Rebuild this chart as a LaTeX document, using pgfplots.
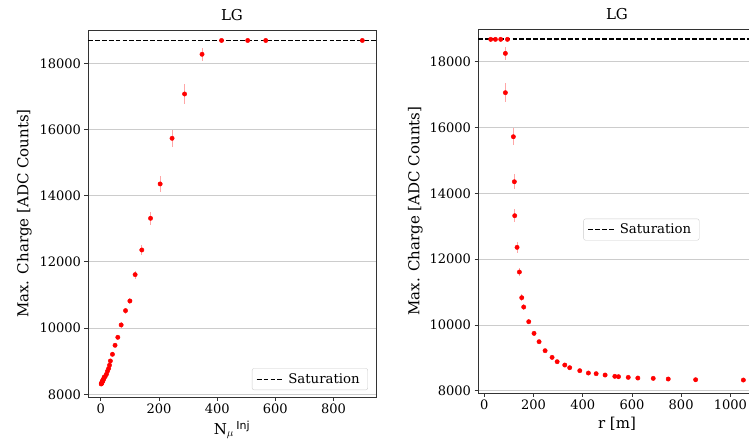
\documentclass[border=0pt]{standalone}
\usepackage{fontspec}
\setmainfont{DejaVu Serif}
\setsansfont{DejaVu Sans}
\usepackage{pgfplots}
\pgfplotsset{compat=1.18}
\begin{document}
\begin{tikzpicture}
\path[use as bounding box] (0pt,0pt) rectangle (749pt,445pt);
\pgfplotsset{common/.style={
  scale only axis, tick align=outside, tick pos=left,
  ytick={8000,10000,...,18000}, scaled y ticks=false, scaled x ticks=false,
  ymajorgrids, grid style={line width=0.8pt, color=black!20},
  major tick length=3.5pt, tick style={black!80, line width=0.8pt},
  axis line style={line width=0.9pt, black!80},
  ticklabel style={font=\fontsize{13}{15}\selectfont},
  /pgf/number format/assume math mode=true,
  /pgf/number format/1000 sep={},
  label style={font=\fontsize{15}{18}\selectfont},
  title style={font=\fontsize{15}{18}\selectfont},
  title=LG, ylabel={Max. Charge [ADC Counts]},
  legend cell align=left,
  legend style={draw=black!20, rounded corners=2pt, fill=white, fill opacity=0.8, text opacity=1, font=\fontsize{13.3}{15}\selectfont, inner xsep=4pt, inner ysep=3pt, nodes={inner xsep=4pt}},
  legend image code/.code={\draw[#1] (0pt,0pt) -- (27pt,0pt);},
  error bars/error bar style={red!35, line width=0.8pt},
  error bars/error mark=none,
}}
% Left panel
\begin{axis}[common, at={(88pt,48pt)}, anchor=south west, width=288pt, height=367pt,
  xmin=-44, xmax=946, ymin=7918, ymax=19006, xtick={0,200,...,800},
  ylabel shift=1pt,
  xlabel={N\textsubscript{$\mu$}\,\textsuperscript{\sffamily\fontsize{11}{12}\selectfont Inj}},
  legend style={at={(0.972,0.019)}, anchor=south east}]
\addplot[forget plot, only marks, mark=*, mark size=2.2pt, mark options={draw=red, fill=red}, red,
  error bars/.cd, y dir=both, y explicit] table[x=x, y=y, y error=e] {
x y e
1.5 8311 20
2 8324 20
3 8334 20
4 8355 20
4.5 8375 20
5.5 8385 20
6.5 8405 20
7 8426 20
8.5 8436 20
10.5 8476 25
11.5 8517 25
15 8537 25
19.5 8608 30
23 8699 30
27 8780 35
30 8881 40
33 9007 40
40 9208 50
49 9480 60
58.5 9722 70
70 10095 80
85 10528 90
100 10820 100
118 11615 120
141 12360 160
171 13317 190
204 14355 235
245 15734 252
288 17073 290
348 18272 190
415 18690 0
505 18690 0
567 18690 0
899 18690 0
};
\addplot[black, line width=1.2pt, dash pattern=on 4.8pt off 2.1pt] coordinates {(-44,18690) (946,18690)};
\addlegendentry{Saturation}
\end{axis}
% Right panel
\begin{axis}[common, at={(478pt,52pt)}, anchor=south west, width=271pt, height=364pt,
  xmin=-25.8, xmax=1076, ymin=7930, ymax=18994, xtick={0,200,...,1000},
  axis y line*=left, y axis line style={-},
  xlabel={r [m]}, xlabel style={xshift=3.5pt}, title style={xshift=3.5pt},
  legend style={at={(0.603,0.449)}, anchor=center}]
\addplot[forget plot, only marks, mark=*, mark size=2.2pt, mark options={draw=red, fill=red}, red,
  error bars/.cd, y dir=both, y explicit] table[x=x, y=y, y error=e] {
x y e
26 18679 0
45 18679 0
66.5 18679 0
94 18679 0
85.5 18253 190
85.5 17058 290
118 15720 252
122 14352 235
123.5 13319 190
133 12357 160
142.5 11607 120
152 10827 100
160 10543 90
180.5 10097 80
202 9743 70
222.5 9489 60
247 9216 50
275.4 9013 40
296 8881 40
327 8780 35
347 8699 30
388 8608 30
423 8537 25
454.5 8517 25
491 8476 25
530.5 8436 20
545.5 8426 20
585 8405 20
624 8385 20
686.6 8375 20
747.6 8355 20
859 8334 20
1053 8324 20
};
\addplot[black, line width=1.2pt, dash pattern=on 4.8pt off 2.1pt] coordinates {(-25.8,18690) (1076,18690)};
\addlegendentry{Saturation}
\end{axis}
\end{tikzpicture}
\end{document}
